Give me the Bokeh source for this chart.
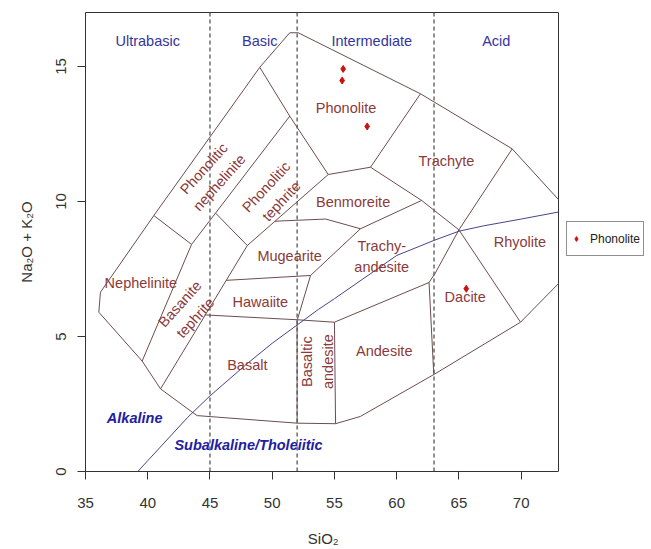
import math
from bokeh.plotting import figure
from bokeh.models import Range1d, FixedTicker, Legend, LegendItem, ColumnDataSource, LinearAxis
from bokeh.core.properties import value
from bokeh.embed import file_html
from bokeh.resources import INLINE

# ---------------- data ----------------
x_ticks = [35, 40, 45, 50, 55, 60, 65, 70]
y_ticks = [0, 5, 10, 15]
x_lim = [35, 73]
y_lim = [0, 17]
silica_dividers = [45, 52, 63]

group_names = ["Ultrabasic", "Basic", "Intermediate", "Acid"]
group_x = [40.0, 49.0, 58.0, 68.0]
group_y = [15.96, 15.96, 15.96, 15.96]

# field boundaries (SiO2, Na2O+K2O)
outer_upper_x = [36.2, 40.49, 49.0, 51.41, 52.09, 61.91, 69.28, 73.0]
outer_upper_y = [6.64, 9.48, 14.97, 16.25, 16.25, 13.99, 11.95, 10.07]
outer_lower_x = [36.2, 36.07, 39.55, 41.03, 43.57, 43.97, 52.0, 55.09, 57.09, 62.98, 69.95, 73.0]
outer_lower_y = [6.64, 5.9, 4.09, 3.06, 2.2, 2.07, 1.79, 1.77, 2.04, 3.59, 5.53, 6.96]

inner_lines = [
    ([40.49, 43.52], [9.48, 8.41]),                 # nephelinite / phon. nephelinite
    ([43.52, 39.55], [8.41, 4.09]),                 # nephelinite / basanite
    ([43.52, 51.41], [8.41, 13.16]),                # phon. nephelinite / phon. tephrite
    ([49.0, 51.41, 54.5], [14.97, 13.16, 11.0]),    # phonolite left
    ([45.45, 48.0], [9.57, 8.37]),                  # phon. tephrite / basanite
    ([41.03, 48.0], [3.06, 8.37]),                  # basanite right
    ([48.0, 54.5], [8.37, 11.0]),                   # phon. tephrite lower right
    ([50.2, 54.3, 57.09], [9.27, 9.35, 8.99]),      # mugearite / benmoreite
    ([57.09, 62.0], [8.99, 10.04]),                 # benmoreite / trachyandesite
    ([57.9, 62.0, 65.0], [11.27, 10.04, 8.95]),     # benmoreite / trachyte
    ([54.5, 57.9], [11.0, 11.27]),                  # benmoreite / phonolite
    ([57.9, 61.91], [11.27, 13.99]),                # phonolite / trachyte
    ([69.28, 65.0], [11.95, 8.95]),                 # trachyte / rhyolite
    ([65.0, 69.95], [8.95, 5.53]),                  # dacite / rhyolite
    ([65.0, 63.1, 62.6], [8.95, 7.35, 7.0]),        # trachyandesite / dacite
    ([62.6, 62.98], [7.0, 3.59]),                   # andesite / dacite
    ([55.0, 62.6], [5.53, 7.0]),                    # andesite / trachyandesite
    ([44.56, 52.0, 55.0], [5.8, 5.62, 5.53]),       # basalt top
    ([52.0, 52.0], [5.62, 1.79]),                   # basaltic andesite left
    ([55.0, 55.09], [5.53, 1.77]),                  # basaltic andesite right
    ([46.3, 53.08], [7.08, 7.26]),                  # hawaiite / mugearite
    ([53.08, 52.02], [7.26, 5.62]),                 # hawaiite right
    ([53.08, 57.09], [7.26, 8.99]),                 # mugearite / trachyandesite
]

alk_x = [39.2, 40.0, 43.2, 45.0, 48.0, 50.0, 53.7, 55.0, 60.0, 63.0, 65.0, 67.0, 70.0, 73.0]
alk_y = [0.0, 0.4, 2.0, 2.8, 4.0, 4.75, 6.0, 6.4, 8.0, 8.56, 8.9, 9.1, 9.35, 9.61]

rock_names = ["Phonolite", "Trachyte", "Benmoreite", "Trachy-\nandesite", "Rhyolite",
              "Dacite", "Andesite", "Basaltic\nandesite", "Basalt", "Hawaiite",
              "Mugearite", "Nephelinite", "Basanite\ntephrite",
              "Phonolitic\nnephelinite", "Phonolitic\ntephrite"]
rock_x = [55.93, 64.0, 56.5, 58.8, 69.9, 65.5, 59.0, 53.66, 48.0, 49.05,
          51.4, 39.45, 43.2, 45.13, 50.13]
rock_y = [13.45, 11.5, 10.0, 7.97, 8.5, 6.45, 4.45, 4.07, 3.93, 6.27,
          8.0, 7.0, 5.95, 10.96, 10.28]
rock_angle_deg = [0, 0, 0, 0, 0, 0, 0, 90, 0, 0, 0, 0, 48, 48, 47]

series_names = ["Alkaline", "Subalkaline/Tholeiitic"]
series_x = [38.95, 48.1]
series_y = [2.0, 0.97]

sample_label = "Phonolite"
sample_sio2 = [55.7, 55.62, 57.63, 65.59]
sample_alk = [14.91, 14.48, 12.78, 6.77]

x_title = "SiO\u2082"
y_title = "Na\u2082O + K\u2082O"

# ---------------- figure ----------------
FONT = "Liberation Sans"
LINE_COL = "#6d4c4c"
ROCK_COL = "#8b3a3a"
BOX_COL = "#333333"

PLOT_W = 473          # width of the data box in px
EXTRA_W = 90          # room to the right of the box for the legend
px_per_unit = PLOT_W / (x_lim[1] - x_lim[0])
x_end = x_lim[1] + EXTRA_W / px_per_unit

p = figure(frame_width=PLOT_W + EXTRA_W, frame_height=459,
           x_range=Range1d(x_lim[0], x_end), y_range=Range1d(y_lim[0], y_lim[1]),
           output_backend="svg", toolbar_location=None,
           min_border_left=85, min_border_right=2, min_border_top=12, min_border_bottom=77)
p.xgrid.visible = False
p.ygrid.visible = False
p.outline_line_color = None
p.background_fill_color = "white"

for ax in (p.xaxis[0], p.yaxis[0]):
    ax.major_tick_in = 0
    ax.major_tick_out = 8
    ax.minor_tick_in = 0
    ax.minor_tick_out = 0
    ax.axis_line_color = BOX_COL
    ax.major_tick_line_color = BOX_COL
    ax.major_label_text_font = FONT
    ax.major_label_text_font_size = "15px"
    ax.major_label_text_color = BOX_COL
    ax.axis_label_text_font = FONT
    ax.axis_label_text_font_size = "15px"
    ax.axis_label_text_font_style = "normal"
    ax.axis_label_text_color = BOX_COL

p.xaxis.bounds = (x_lim[0], x_lim[1])
p.xaxis.ticker = FixedTicker(ticks=x_ticks)
p.yaxis.ticker = FixedTicker(ticks=y_ticks)
p.xaxis.major_label_standoff = 18
# the axis title is centred on the whole frame; trailing no-break spaces move it
# back over the centre of the data box
p.xaxis.axis_label = x_title + "\u00a0" * 21
p.xaxis.axis_label_standoff = 19
p.yaxis.major_label_orientation = "vertical"
p.yaxis.major_label_standoff = 12
p.yaxis.axis_label = y_title
p.yaxis.axis_label_standoff = 18

# top edge of the box (an axis without ticks, limited to the data box)
top_axis = LinearAxis(ticker=FixedTicker(ticks=[]), bounds=(x_lim[0], x_lim[1]),
                      axis_line_color=BOX_COL, major_tick_out=0, major_tick_in=0,
                      minor_tick_out=0, minor_tick_in=0, major_label_text_font_size="0px")
p.add_layout(top_axis, "above")

# right edge of the box
p.segment(x0=[x_lim[1]], y0=[y_lim[0]], x1=[x_lim[1]], y1=[y_lim[1]],
          line_color=BOX_COL, line_width=1)

# silica dividers
p.segment(x0=silica_dividers, y0=[y_lim[0]] * len(silica_dividers), x1=silica_dividers,
          y1=[y_lim[1]] * len(silica_dividers), line_color="#222222", line_width=1,
          line_dash="4 3")

# boundaries
xs = [outer_upper_x, outer_lower_x] + [l[0] for l in inner_lines]
ys = [outer_upper_y, outer_lower_y] + [l[1] for l in inner_lines]
p.multi_line(xs=xs, ys=ys, line_color=LINE_COL, line_width=1)

# alkaline / subalkaline divide
p.line(alk_x, alk_y, line_color="#45458a", line_width=1)

# labels
p.text(x=group_x, y=group_y, text=group_names, text_align="center", text_baseline="middle",
       text_font=value(FONT), text_font_size="14.5px", text_color="#35359c")

rock_src = ColumnDataSource(dict(x=rock_x, y=rock_y, t=rock_names,
                                 a=[math.radians(a) for a in rock_angle_deg]))
p.text(x="x", y="y", text="t", angle="a", source=rock_src, text_align="center",
       text_baseline="middle", text_font=value(FONT), text_font_size="14.5px",
       text_color=ROCK_COL, text_line_height=1.3)

p.text(x=series_x, y=series_y, text=series_names, text_align="center", text_baseline="middle",
       text_font=value(FONT), text_font_size="14.5px", text_font_style="bold italic",
       text_color="#2020a0")

# samples
r = p.scatter(sample_sio2, sample_alk, marker="diamond", size=7, color="#cc1111")

legend = Legend(items=[LegendItem(label=sample_label, renderers=[r])], location=(481, 215),
                margin=0, padding=3, glyph_width=12, glyph_height=27, label_height=27,
                label_standoff=8, border_line_color="#222222", border_line_width=1,
                label_text_font=FONT, label_text_font_size="12px", label_text_color="#222222",
                background_fill_alpha=1.0, spacing=0)
p.add_layout(legend, "center")

open("out.html", "w").write(file_html(p, INLINE))
